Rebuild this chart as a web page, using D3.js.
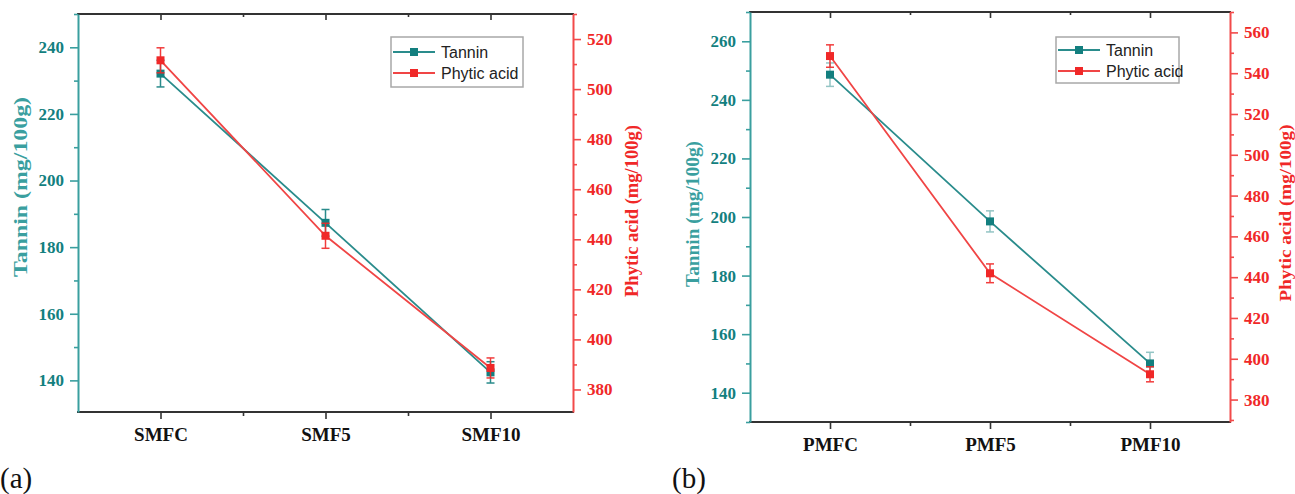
<!DOCTYPE html>
<html><head><meta charset="utf-8">
<script src="https://cdn.jsdelivr.net/npm/d3@7"></script>
<style>body{margin:0;background:#fff}svg{display:block}</style>
</head><body>
<svg id="c" width="1295" height="494"></svg>
<script>
// ---- data ----
const catsA = ["SMFC", "SMF5", "SMF10"];
const tanninA = [232.1, 187.3, 142.4];
const tanninErrA = [4.0, 4.0, 3.2];
const phyticA = [511.5, 441.4, 388.6];
const phyticErrA = [5.0, 5.0, 4.0];

const catsB = ["PMFC", "PMF5", "PMF10"];
const tanninB = [248.6, 198.5, 150.0];
const tanninErrB = [4.0, 3.6, 3.8];
const phyticB = [548.4, 441.9, 392.4];
const phyticErrB = [5.5, 4.6, 3.7];

const leftTicksA = [140, 160, 180, 200, 220, 240];
const rightTicksA = [380, 400, 420, 440, 460, 480, 500, 520];
const leftTicksB = [140, 160, 180, 200, 220, 240, 260];
const rightTicksB = [380, 400, 420, 440, 460, 480, 500, 520, 540, 560];

const seriesNames = ["Tannin", "Phytic acid"];
const leftTitle = "Tannin (mg/100g)";
const rightTitle = "Phytic acid (mg/100g)";

// ---- style ----
const TEAL = "#137f7f", TEAL_AX = "#3a9f9f", TEAL_LINE = "#2a8c8c";
const RED = "#f02828", RED_AX = "#f24a4a", RED_LINE = "#f04545";
const svg = d3.select("#c");

function panel(o) {
  const g = svg.append("g");
  const x = d3.scaleLinear().domain([0.5, o.cats.length + 0.5]).range([o.x0, o.x1]);
  const yl = d3.scaleLinear().domain(o.leftDom).range([o.yB, o.yT]);
  const yr = d3.scaleLinear().domain(o.rightDom).range([o.yB, o.yT]);
  const idx = o.cats.map((d, i) => i + 1);
  const minorX = idx.slice(0, -1).map(i => i + 0.5);

  const minorOf = (t) => t.slice(0, -1).map((v, i) => (v + t[i + 1]) / 2)
      .concat([t[0] - (t[1] - t[0]) / 2, t[t.length - 1] + (t[1] - t[0]) / 2]);
  const inDom = (s) => v => v >= Math.min(...s.domain()) && v <= Math.max(...s.domain());

  // bottom axis
  const bx = g.append("g").attr("transform", `translate(0,${o.yB})`);
  bx.call(d3.axisBottom(x).tickValues(idx).tickFormat(i => o.cats[i - 1]).tickSize(7).tickSizeOuter(0));
  bx.append("g").call(d3.axisBottom(x).tickValues(minorX).tickFormat("").tickSize(4).tickSizeOuter(0))
    .select(".domain").remove();
  bx.selectAll(".domain").attr("stroke", "#333").attr("stroke-width", 2)
    .attr("d", `M${o.x0 - 1},0H${o.x1 + 1}`);
  bx.selectAll(".tick line").attr("stroke", "#333").attr("stroke-width", 1.6);
  bx.selectAll(".tick text").attr("fill", "#111").attr("font-family", "Liberation Serif")
    .attr("font-weight", "bold").attr("font-size", 19).attr("dy", o.xLabDy);

  // top axis (inward ticks)
  const tx = g.append("g").attr("transform", `translate(0,${o.yT})`);
  tx.call(d3.axisBottom(x).tickValues(idx).tickFormat("").tickSize(6).tickSizeOuter(0));
  tx.append("g").call(d3.axisBottom(x).tickValues(minorX).tickFormat("").tickSize(3).tickSizeOuter(0))
    .select(".domain").remove();
  tx.selectAll(".domain").attr("stroke", "#333").attr("stroke-width", 2)
    .attr("d", `M${o.x0 - 1},0H${o.x1 + 1}`);
  tx.selectAll(".tick line").attr("stroke", "#333").attr("stroke-width", 1.6);

  // left axis
  const la = g.append("g").attr("transform", `translate(${o.x0},0)`);
  la.call(d3.axisLeft(yl).tickValues(o.leftTicks).tickSize(8).tickSizeOuter(0).tickPadding(6));
  la.append("g").call(d3.axisLeft(yl).tickValues(minorOf(o.leftTicks).filter(inDom(yl)))
    .tickFormat("").tickSize(4).tickSizeOuter(0)).select(".domain").remove();
  la.selectAll(".domain").attr("stroke", TEAL_AX).attr("stroke-width", 2);
  la.selectAll(".tick line").attr("stroke", TEAL_AX).attr("stroke-width", 1.6);
  la.selectAll(".tick text").attr("fill", TEAL).attr("font-family", "Liberation Serif")
    .attr("font-weight", "bold").attr("font-size", 17);

  // right axis
  const ra = g.append("g").attr("transform", `translate(${o.x1},0)`);
  ra.call(d3.axisRight(yr).tickValues(o.rightTicks).tickSize(8).tickSizeOuter(0).tickPadding(6));
  ra.append("g").call(d3.axisRight(yr).tickValues(minorOf(o.rightTicks).filter(inDom(yr)))
    .tickFormat("").tickSize(4).tickSizeOuter(0)).select(".domain").remove();
  ra.selectAll(".domain").attr("stroke", RED_AX).attr("stroke-width", 2);
  ra.selectAll(".tick line").attr("stroke", RED_AX).attr("stroke-width", 1.6);
  ra.selectAll(".tick text").attr("fill", RED).attr("font-family", "Liberation Serif")
    .attr("font-weight", "bold").attr("font-size", 17);

  // axis titles
  g.append("text").text(leftTitle)
    .attr("transform", `translate(${o.ltX},${o.ltY}) rotate(-90)`)
    .attr("text-anchor", "middle").attr("dominant-baseline", "central")
    .attr("font-family", "Liberation Serif").attr("font-weight", "bold").attr("font-size", o.ltFs)
    .attr("fill", TEAL_AX).attr("textLength", o.ltLen).attr("lengthAdjust", "spacingAndGlyphs");
  g.append("text").text(rightTitle)
    .attr("transform", `translate(${o.rtX},${o.rtY}) rotate(-90)`)
    .attr("text-anchor", "middle").attr("dominant-baseline", "central")
    .attr("font-family", "Liberation Serif").attr("font-weight", "bold").attr("font-size", o.rtFs)
    .attr("fill", RED).attr("textLength", o.rtLen).attr("lengthAdjust", "spacingAndGlyphs");

  // series
  const series = [
    { v: o.tan, e: o.tanE, y: yl, c: TEAL, lc: TEAL_LINE, eo: o.tanErrOp },
    { v: o.phy, e: o.phyE, y: yr, c: RED, lc: RED_LINE, eo: 0.9 }
  ];
  series.forEach(s => {
    const line = d3.line().x((d, i) => x(i + 1)).y(d => s.y(d));
    g.append("path").attr("d", line(s.v)).attr("fill", "none")
      .attr("stroke", s.lc).attr("stroke-width", 1.8);
  });
  series.forEach(s => {
    const eg = g.append("g").attr("stroke", s.c).attr("stroke-width", 1.5).attr("opacity", s.eo);
    s.v.forEach((d, i) => {
      const cx = x(i + 1), y1 = s.y(d + s.e[i]), y2 = s.y(d - s.e[i]);
      eg.append("line").attr("x1", cx).attr("x2", cx).attr("y1", y1).attr("y2", y2);
      eg.append("line").attr("x1", cx - 4).attr("x2", cx + 4).attr("y1", y1).attr("y2", y1);
      eg.append("line").attr("x1", cx - 4).attr("x2", cx + 4).attr("y1", y2).attr("y2", y2);
    });
    g.selectAll(null).data(s.v).enter().append("rect")
      .attr("x", (d, i) => x(i + 1) - 4).attr("y", d => s.y(d) - 4)
      .attr("width", 8).attr("height", 8).attr("fill", s.c);
  });

  // legend
  const lg = g.append("g");
  lg.append("rect").attr("x", o.lgX).attr("y", o.lgY).attr("width", o.lgW).attr("height", o.lgH)
    .attr("fill", "#fff").attr("stroke", "#a8a8a8").attr("stroke-width", 1.5);
  seriesNames.forEach((n, i) => {
    const yy = o.lgY + o.lgRow[i];
    const c = i === 0 ? TEAL : RED, lc = i === 0 ? TEAL_LINE : RED_LINE;
    lg.append("line").attr("x1", o.lgX + 2).attr("x2", o.lgX + 44).attr("y1", yy).attr("y2", yy)
      .attr("stroke", lc).attr("stroke-width", 1.8);
    lg.append("rect").attr("x", o.lgX + 23 - 4).attr("y", yy - 4).attr("width", 8).attr("height", 8).attr("fill", c);
    lg.append("text").text(n).attr("x", o.lgX + 50).attr("y", yy).attr("dominant-baseline", "central")
      .attr("font-family", "Liberation Sans").attr("font-size", 16).attr("fill", "#222");
  });

  // panel label
  g.append("text").text(o.label).attr("x", o.labX).attr("y", 488)
    .attr("font-family", "Liberation Serif").attr("font-size", 29).attr("fill", "#111");
}

panel({
  cats: catsA, tan: tanninA, tanE: tanninErrA, phy: phyticA, phyE: phyticErrA,
  leftTicks: leftTicksA, rightTicks: rightTicksA,
  x0: 78, x1: 573, yT: 14, yB: 412, leftDom: [130.5, 250], rightDom: [371, 530],
  xLabDy: "1.0em", tanErrOp: 0.9,
  ltX: 20, ltY: 187, ltLen: 180, ltFs: 19, rtX: 632, rtY: 211, rtLen: 172, rtFs: 18,
  lgX: 391, lgY: 37, lgW: 132, lgH: 50, lgRow: [15, 36],
  label: "(a)", labX: 0
});
panel({
  cats: catsB, tan: tanninB, tanE: tanninErrB, phy: phyticB, phyE: phyticErrB,
  leftTicks: leftTicksB, rightTicks: rightTicksB,
  x0: 750, x1: 1230, yT: 12, yB: 422, leftDom: [130, 270], rightDom: [369, 570],
  xLabDy: "1.0em", tanErrOp: 0.45,
  ltX: 693, ltY: 214, ltLen: 146, ltFs: 18, rtX: 1285, rtY: 213, rtLen: 177, rtFs: 17,
  lgX: 1056, lgY: 37, lgW: 123, lgH: 46, lgRow: [13, 34],
  label: "(b)", labX: 672
});
</script>
</body></html>
